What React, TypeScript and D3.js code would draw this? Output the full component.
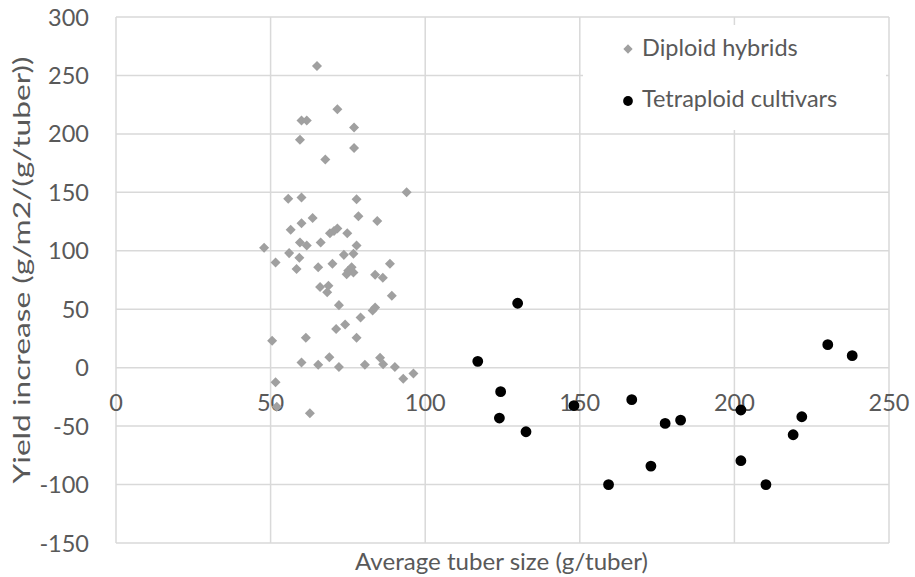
import React from "react";
import * as d3 from "d3";

const diploidX = [65, 71.6, 60.0, 61.7, 77.0, 59.5, 77.0, 67.7, 55.7, 60.0, 77.8, 94.0, 63.6, 78.4, 84.5, 56.5, 60.0, 69.2, 70.5, 71.6, 74.8, 47.9, 59.5, 61.7, 56.0, 66.2, 77.8, 76.8, 73.7, 51.6, 59.3, 58.4, 65.4, 70.0, 88.6, 75.1, 76.2, 76.8, 74.6, 83.8, 86.3, 66.0, 68.7, 68.3, 89.2, 72.1, 83.8, 83.0, 79.1, 71.2, 74.1, 50.5, 61.4, 77.8, 60.0, 65.4, 69.0, 72.1, 80.5, 85.4, 86.4, 90.2, 92.9, 96.2, 51.6, 52.0, 62.7];
const diploidY = [258, 221, 211.5, 211.5, 205.5, 195, 188, 178, 144.5, 145.5, 144, 150, 128, 129.5, 125.5, 118, 123.5, 115, 117, 119, 115, 102.5, 107, 104.5, 98, 107, 104.5, 97.5, 96.5, 90, 94, 84.5, 86, 89, 89, 83, 86, 81.5, 80, 79.5, 77, 69, 70, 64.5, 61.5, 53.5, 51.5, 49, 43, 33, 37, 23, 25.5, 25.5, 4.5, 2.5, 9, 0.5, 2.5, 8.5, 3, 0.5, -9.5, -5, -12.5, -33.5, -39];

const tetraX = [129.9, 117.0, 124.4, 124.0, 132.6, 148.1, 166.8, 177.6, 173.0, 159.3, 182.6, 202.1, 202.1, 210.2, 219.0, 221.8, 230.2, 238.1];
const tetraY = [55.1, 5.4, -20.5, -43.1, -54.8, -32.5, -27.4, -47.7, -84.2, -100, -44.9, -36.2, -79.6, -100, -57.4, -42.0, 19.7, 10.3];

const xTicks = [0, 50, 100, 150, 200, 250];
const yTicks = [-150, -100, -50, 0, 50, 100, 150, 200, 250, 300];

const seriesNames = ["Diploid hybrids", "Tetraploid cultivars"];
const xTitle = "Average tuber size (g/tuber)";
const yTitle = "Yield increase (g/m2/(g/tuber))";

export default function App() {
  const W = 915, H = 577;
  const left = 116, right = 889, top = 17, bottom = 543;
  const x = d3.scaleLinear().domain([0, 250]).range([left, right]);
  const y = d3.scaleLinear().domain([-150, 300]).range([bottom, top]);
  const font = "Lato, 'Open Sans', sans-serif";
  const textColor = "#595959";
  const grid = "#d9d9d9";
  const diamond = d3.symbol().type(d3.symbolDiamond2).size(64)();
  const circle = d3.symbol().type(d3.symbolCircle).size(92)();

  return (
    <svg width={W} height={H} style={{ position: "absolute", left: 0, top: 0, background: "#fff" }}>
      <rect x={0} y={0} width={W} height={H} fill="#fff" />
      {yTicks.map((t) => (
        <line key={"gy" + t} x1={left} x2={right} y1={y(t)} y2={y(t)} stroke={grid} strokeWidth={1.5} />
      ))}
      {xTicks.map((t) => (
        <line key={"gx" + t} x1={x(t)} x2={x(t)} y1={top} y2={bottom} stroke={grid} strokeWidth={1.5} />
      ))}
      {yTicks.map((t) => (
        <text key={"ty" + t} x={89} y={y(t) + 8.5} textAnchor="end" fontFamily={font} fontSize={23.5} fill={textColor}>
          {t}
        </text>
      ))}
      {xTicks.map((t) => (
        <text key={"tx" + t} x={x(t)} y={y(0) + 43} textAnchor="middle" fontFamily={font} fontSize={23.5} fill={textColor}>
          {t}
        </text>
      ))}
      {diploidX.map((v, i) => (
        <path key={"d" + i} d={diamond} transform={`translate(${x(v)},${y(diploidY[i])})`} fill="#a0a0a0" />
      ))}
      {tetraX.map((v, i) => (
        <path key={"t" + i} d={circle} transform={`translate(${x(v)},${y(tetraY[i])})`} fill="#000" />
      ))}
      <rect x={583} y={25} width={303} height={105} fill="#fff" />
      <path d={d3.symbol().type(d3.symbolDiamond2).size(55)()} transform="translate(628,49)" fill="#a0a0a0" />
      <text x={642} y={56} fontFamily={font} fontSize={23.5} fill={textColor}>{seriesNames[0]}</text>
      <path d={d3.symbol().type(d3.symbolCircle).size(75)()} transform="translate(628,101)" fill="#000" />
      <text x={642} y={107} fontFamily={font} fontSize={23.5} fill={textColor}>{seriesNames[1]}</text>
      <text x={501.5} y={570} textAnchor="middle" fontFamily={font} fontSize={24} textLength={293} lengthAdjust="spacingAndGlyphs" fill={textColor}>{xTitle}</text>
      <text transform={`translate(30,270) rotate(-90)`} textAnchor="middle" fontFamily={font} fontSize={24} textLength={427} lengthAdjust="spacingAndGlyphs" fill={textColor}>{yTitle}</text>
    </svg>
  );
}
